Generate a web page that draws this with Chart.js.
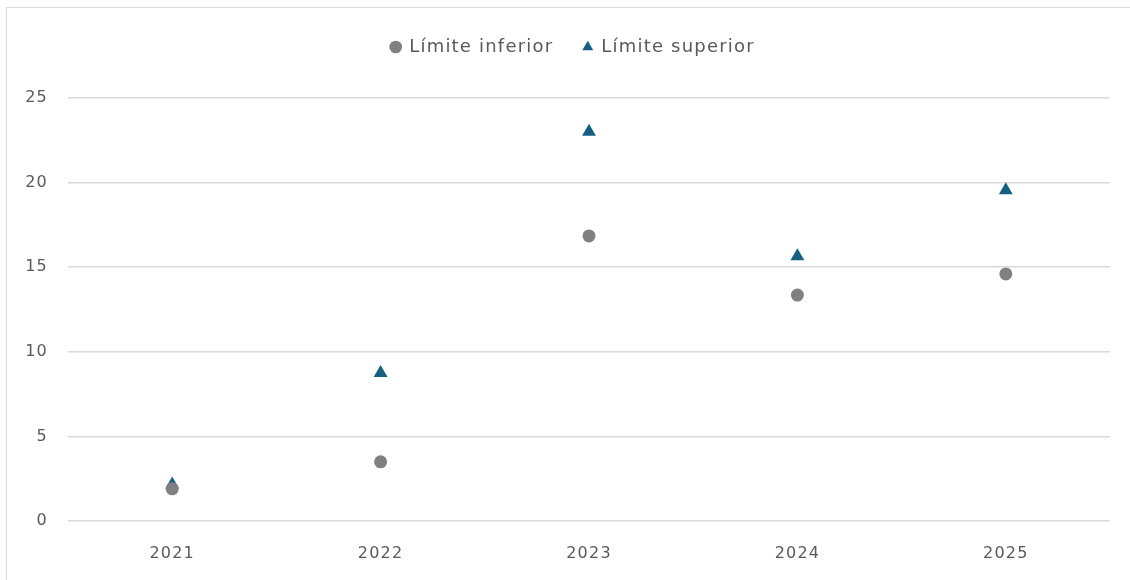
<!DOCTYPE html>
<html>
<head>
<meta charset="utf-8">
<script src="https://cdn.jsdelivr.net/npm/chart.js@4"></script>
<style>
  body { margin: 0; background: #fff; overflow: hidden; }
  #frame { position: absolute; left: 6px; top: 7px; width: 2000px; height: 2000px; border-top: 1px solid #d9d9d9; border-left: 1px solid #d9d9d9; }
  #wrap { position: absolute; left: 0; top: 0; width: 1130px; height: 580px; }
</style>
</head>
<body>
<div id="frame"></div>
<div id="wrap"><canvas id="chart"></canvas></div>
<script>
// datos
const years = ['2021', '2022', '2023', '2024', '2025'];
const limiteInferior = [1.9, 3.5, 16.85, 13.35, 14.6];
const limiteSuperior = [2.15, 8.75, 23.0, 15.65, 19.55];
const yTicks = [0, 5, 10, 15, 20, 25];

const textColor = '#595959';
const fontFamily = "'DejaVu Sans', 'Open Sans', sans-serif";

// legend spacing tweak + wider text like the original
const legendPad = {
  id: 'legendPad',
  beforeInit(chart) {
    const fit = chart.legend.fit;
    chart.legend.fit = function () {
      fit.bind(chart.legend)();
      this.height += 32;
    };
    const draw = chart.legend.draw;
    chart.legend.draw = function (area) {
      this.ctx.save();
      this.ctx.translate(18, 0);
      draw.call(this, area);
      this.ctx.restore();
    };
  },
  beforeUpdate(chart) { chart.ctx.letterSpacing = '1.2px'; },
  beforeDraw(chart) { chart.ctx.letterSpacing = '1.2px'; }
};

const ctx = document.getElementById('chart').getContext('2d');
new Chart(ctx, {
  type: 'line',
  data: {
    labels: years,
    datasets: [
      {
        label: 'Límite inferior',
        data: limiteInferior,
        showLine: false,
        pointStyle: 'circle',
        pointRadius: 6.5,
        pointHoverRadius: 6.5,
        backgroundColor: '#808080',
        borderColor: '#808080',
        borderWidth: 0
      },
      {
        label: 'Límite superior',
        data: limiteSuperior,
        showLine: false,
        pointStyle: 'triangle',
        pointRadius: 8,
        pointHoverRadius: 8,
        backgroundColor: '#156082',
        borderColor: '#156082',
        borderWidth: 0
      }
    ]
  },
  options: {
    responsive: true,
    maintainAspectRatio: false,
    animation: false,
    layout: { padding: { top: 8, right: 20, bottom: 0, left: 0 } },
    plugins: {
      legend: {
        position: 'top',
        labels: {
          usePointStyle: true,
          boxWidth: 9,
          boxHeight: 9,
          padding: 30,
          color: textColor,
          font: { family: fontFamily, size: 18 }
        }
      },
      tooltip: { enabled: false }
    },
    scales: {
      x: {
        offset: true,
        grid: { display: false, drawTicks: false },
        border: { display: false },
        ticks: { color: textColor, padding: 23, font: { family: fontFamily, size: 16 } },
        afterFit(scale) { scale.height = 59; }
      },
      y: {
        min: 0,
        max: 25,
        grid: { color: '#d9d9d9', lineWidth: 1.5, drawTicks: false },
        border: { display: false },
        afterBuildTicks(scale) { scale.ticks = yTicks.map(v => ({ value: v })); },
        ticks: { color: textColor, padding: 20, font: { family: fontFamily, size: 16 } },
        afterFit(scale) { scale.width = 68; }
      }
    }
  },
  plugins: [legendPad]
});
</script>
</body>
</html>
